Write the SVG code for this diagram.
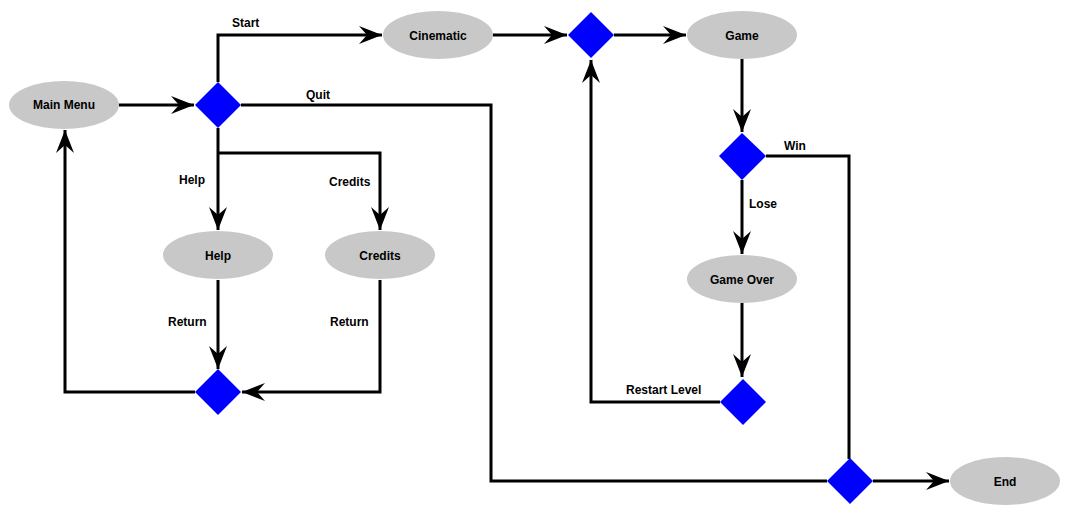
<svg xmlns="http://www.w3.org/2000/svg" width="1066" height="525" viewBox="0 0 1066 525">
<style>
.n{fill:#c8c8c8;stroke:none}
.d{fill:#0000ff;stroke:none}
.t{font-family:"Liberation Sans",Arial,sans-serif;font-size:12px;font-weight:bold;fill:#000;text-anchor:middle}
.l{font-family:"Liberation Sans",Arial,sans-serif;font-size:12px;font-weight:bold;fill:#000}
.c{fill:none;stroke:#000;stroke-width:3}
.a{marker-end:url(#ah)}
</style>
<defs>
<marker id="ah" markerUnits="userSpaceOnUse" markerWidth="26" markerHeight="20" viewBox="-24 -10 26 20" refX="0" refY="0" orient="auto">
<path d="M0,0 L-23,-9 L-15,0 L-23,9 Z" fill="#000"/>
</marker>
</defs>
<rect width="1066" height="525" fill="#fff"/>
<g id="connectors">
<path class="c a" d="M119,105 H194"/>
<path class="c a" d="M218,82 V35 H382"/>
<path class="c" d="M241,105 H491 V481 H827"/>
<path class="c a" d="M218,128 V230"/>
<path class="c a" d="M218,153 H380 V230"/>
<path class="c a" d="M218,280 V369"/>
<path class="c a" d="M380,280 V392 H242"/>
<path class="c a" d="M195,392 H65 V130"/>
<path class="c a" d="M493,35 H567"/>
<path class="c a" d="M614,35 H686"/>
<path class="c a" d="M742,59 V132"/>
<path class="c" d="M766,156 H849 V459"/>
<path class="c a" d="M742,180 V254"/>
<path class="c a" d="M742,303 V377"/>
<path class="c a" d="M720,402 H591 V60"/>
<path class="c a" d="M873,481 H949"/>
<text class="l" x="232" y="27">Start</text>
<text class="l" x="306" y="99">Quit</text>
<text class="l" x="179" y="184">Help</text>
<text class="l" x="329" y="186">Credits</text>
<text class="l" x="168" y="326">Return</text>
<text class="l" x="330" y="326">Return</text>
<text class="l" x="784" y="150">Win</text>
<text class="l" x="749" y="208">Lose</text>
<text class="l" x="626" y="394">Restart Level</text>
</g>
<g id="mainmenu"><ellipse class="n" cx="64" cy="105" rx="55" ry="24"/><text class="t" x="64" y="109">Main Menu</text></g>
<g id="d1"><polygon class="d" points="218,82 241,105 218,128 195,105"/></g>
<g id="cinematic"><ellipse class="n" cx="438" cy="35" rx="55" ry="24"/><text class="t" x="438" y="40">Cinematic</text></g>
<g id="d2"><polygon class="d" points="591,12 614,35 591,58 568,35"/></g>
<g id="game"><ellipse class="n" cx="742" cy="35" rx="55" ry="24"/><text class="t" x="742" y="40">Game</text></g>
<g id="d3"><polygon class="d" points="742,133 766,156 742,180 719,156"/></g>
<g id="gameover"><ellipse class="n" cx="742" cy="279" rx="55" ry="24"/><text class="t" x="742" y="284">Game Over</text></g>
<g id="d4"><polygon class="d" points="743,379 766,402 743,425 720,402"/></g>
<g id="help"><ellipse class="n" cx="218" cy="255" rx="55" ry="24"/><text class="t" x="218" y="260">Help</text></g>
<g id="credits"><ellipse class="n" cx="380" cy="255" rx="55" ry="24"/><text class="t" x="380" y="260">Credits</text></g>
<g id="d6"><polygon class="d" points="218,369 241,392 218,415 195,392"/></g>
<g id="d5"><polygon class="d" points="850,458 873,481 850,504 827,481"/></g>
<g id="end"><ellipse class="n" cx="1005" cy="481" rx="55" ry="24"/><text class="t" x="1005" y="486">End</text></g>
</svg>
